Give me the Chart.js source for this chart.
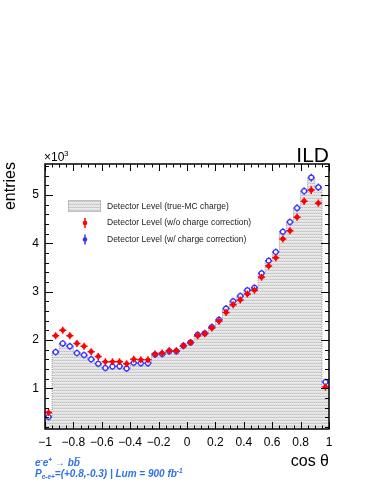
<!DOCTYPE html>
<html>
<head>
<meta charset="utf-8">
<script src="https://cdn.jsdelivr.net/npm/chart.js@4.4.1/dist/chart.umd.min.js"></script>
<style>
  html, body { margin: 0; padding: 0; background: #fff; }
  #wrap { width: 374px; height: 484px; }
</style>
</head>
<body>
<div id="wrap"><canvas id="costheta" width="374" height="484"></canvas></div>
<script>
// binning of cos theta
const nBins = 40;
const xLow = -1;
const xHigh = 1;

// entries per bin
const trueMC = [410, 1750, 1930, 1870, 1730, 1690, 1600, 1510, 1420, 1450,
  1460, 1410, 1530, 1520, 1520, 1700, 1710, 1770, 1770, 1880,
  1950, 2110, 2140, 2270, 2420, 2650, 2800, 2910, 3030, 3080,
  3380, 3640, 3820, 4240, 4440, 4730, 5080, 5360, 5160, 1000];
const withoutCorr = [500, 2090, 2200, 2090, 1930, 1870, 1760, 1660, 1550, 1550,
  1550, 1510, 1600, 1590, 1590, 1710, 1730, 1780, 1780, 1880,
  1950, 2090, 2130, 2250, 2390, 2570, 2730, 2830, 2950, 3030,
  3300, 3530, 3700, 4090, 4260, 4540, 4870, 5100, 4830, 1030];
const withCorr = [410, 1750, 1930, 1870, 1730, 1690, 1600, 1510, 1420, 1450,
  1460, 1410, 1530, 1520, 1520, 1700, 1710, 1770, 1770, 1880,
  1950, 2110, 2140, 2270, 2420, 2650, 2800, 2910, 3030, 3080,
  3380, 3640, 3820, 4240, 4440, 4730, 5080, 5360, 5160, 1130];

const xTickValues = [-1, -0.8, -0.6, -0.4, -0.2, 0, 0.2, 0.4, 0.6, 0.8, 1];
const yTickValues = [1000, 2000, 3000, 4000, 5000];
const yMin = 160;
const yMax = 5640;

const binWidth = (xHigh - xLow) / nBins;
const RED = '#ff0000';
const BLUE = '#3434ff';
const TEXT_BLUE = '#2f72e8';

// light grey dotted fill like the ROOT pattern
function makePattern() {
  const c = document.createElement('canvas');
  c.width = 4;
  c.height = 3;
  const p = c.getContext('2d');
  p.fillStyle = '#e9e9e9';
  p.fillRect(0, 0, 4, 3);
  p.fillStyle = '#c2c2c2';
  p.fillRect(0, 0, 1, 1);
  p.fillRect(2, 0, 1, 1);
  p.fillStyle = '#d4d4d4';
  p.fillRect(1, 0, 1, 1);
  p.fillRect(3, 0, 1, 1);
  p.fillStyle = '#dddddd';
  p.fillRect(1, 2, 1, 1);
  p.fillRect(3, 2, 1, 1);
  return p.createPattern(c, 'repeat');
}
const histFill = makePattern();

function points(values) {
  return values.map((v, i) => ({ x: xLow + (i + 0.5) * binWidth, y: v }));
}

function stepPoints(values) {
  const pts = values.map((v, i) => ({ x: xLow + i * binWidth, y: v }));
  pts.push({ x: xHigh, y: values[values.length - 1] });
  return pts;
}

function minusSign(s) {
  return String(s).replace('-', '\u2212');
}

// error crosses: full bin width horizontally, sqrt(N) vertically
const errorBars = {
  id: 'errorBars',
  beforeDatasetDraw(chart, args) {
    const ds = chart.data.datasets[args.index];
    if (!ds.errorColor) return;
    const ctx = chart.ctx;
    const xs = chart.scales.x;
    const ys = chart.scales.y;
    ctx.save();
    ctx.strokeStyle = ds.errorColor;
    ctx.lineWidth = 1.5;
    ds.data.forEach(p => {
      const err = Math.sqrt(p.y) * 1.1;
      const x0 = xs.getPixelForValue(p.x - binWidth / 2);
      const x1 = xs.getPixelForValue(p.x + binWidth / 2);
      const xc = xs.getPixelForValue(p.x);
      const yc = ys.getPixelForValue(p.y);
      const ya = Math.min(ys.getPixelForValue(p.y + err), yc - 3.5);
      const yb = Math.max(ys.getPixelForValue(p.y - err), yc + 3.5);
      ctx.beginPath();
      ctx.moveTo(x0, yc);
      ctx.lineTo(x1, yc);
      ctx.moveTo(xc, ya);
      ctx.lineTo(xc, yb);
      ctx.stroke();
    });
    ctx.restore();
  }
};

// frame, inward ticks, legend and labels
const rootStyle = {
  id: 'rootStyle',
  afterDraw(chart) {
    const ctx = chart.ctx;
    const a = chart.chartArea;
    const xs = chart.scales.x;
    const ys = chart.scales.y;
    ctx.save();
    ctx.strokeStyle = '#000';
    ctx.lineWidth = 1.5;
    ctx.strokeRect(a.left, a.top, a.right - a.left, a.bottom - a.top);

    ctx.lineWidth = 1;
    ctx.beginPath();
    for (let i = 0; i <= nBins; i++) {
      const v = xLow + i * binWidth;
      const px = Math.round(xs.getPixelForValue(v)) + 0.5;
      const len = (i % 4 === 0) ? 7 : 3.5;
      ctx.moveTo(px, a.bottom);
      ctx.lineTo(px, a.bottom - len);
      ctx.moveTo(px, a.top);
      ctx.lineTo(px, a.top + len);
    }
    for (let v = 200; v < yMax; v += 200) {
      if (v < yMin) continue;
      const py = Math.round(ys.getPixelForValue(v)) + 0.5;
      const len = (v % 1000 === 0) ? 8 : 4;
      ctx.moveTo(a.left, py);
      ctx.lineTo(a.left + len, py);
      ctx.moveTo(a.right, py);
      ctx.lineTo(a.right - len, py);
    }
    ctx.stroke();

    // legend
    ctx.fillStyle = histFill;
    ctx.fillRect(68, 200, 33, 12);
    ctx.setLineDash([1, 1]);
    ctx.strokeStyle = '#999';
    ctx.strokeRect(68.5, 200.5, 32, 11);
    ctx.setLineDash([]);
    const legendMarks = [[RED, 223], [BLUE, 239.5]];
    legendMarks.forEach(([col, y]) => {
      ctx.strokeStyle = col;
      ctx.lineWidth = 1.5;
      ctx.beginPath();
      ctx.moveTo(85, y - 5);
      ctx.lineTo(85, y + 5);
      ctx.stroke();
      ctx.fillStyle = col;
      ctx.beginPath();
      ctx.arc(85, y, 2.3, 0, Math.PI * 2);
      ctx.fill();
    });
    ctx.fillStyle = '#222';
    ctx.font = '8.5px "Liberation Sans", Arial, sans-serif';
    ctx.textBaseline = 'middle';
    ctx.textAlign = 'left';
    ctx.fillText('Detector Level (true-MC charge)', 107, 206.5);
    ctx.fillText('Detector Level (w/o charge correction)', 107, 223);
    ctx.fillText('Detector Level (w/ charge correction)', 107, 239.5);

    // axis titles and labels
    ctx.fillStyle = '#000';
    ctx.textBaseline = 'alphabetic';
    ctx.font = '12px "Liberation Sans", Arial, sans-serif';
    ctx.fillText('\u00d710', a.left - 1, 161);
    ctx.font = '8px "Liberation Sans", Arial, sans-serif';
    ctx.fillText('3', a.left + 19, 156);

    ctx.font = '21px "Liberation Sans", Arial, sans-serif';
    ctx.textAlign = 'right';
    ctx.fillText('ILD', a.right, 162);

    ctx.font = '16px "Liberation Sans", Arial, sans-serif';
    ctx.fillText('cos \u03b8', a.right, 466);

    ctx.save();
    ctx.translate(11, a.top - 2);
    ctx.rotate(-Math.PI / 2);
    ctx.textAlign = 'right';
    ctx.textBaseline = 'middle';
    ctx.fillText('entries', 0, 0);
    ctx.restore();

    // process / beam label
    ctx.fillStyle = TEXT_BLUE;
    ctx.textAlign = 'left';
    const big = 'italic bold 10px "Liberation Sans", Arial, sans-serif';
    const small = 'italic bold 6.5px "Liberation Sans", Arial, sans-serif';
    let x = 35;
    const run = (txt, font, dy, y) => {
      ctx.font = font;
      ctx.fillText(txt, x, y + dy);
      x += ctx.measureText(txt).width;
    };
    run('e', big, 0, 466);
    run('-', small, -4, 466);
    run('e', big, 0, 466);
    run('+', small, -4, 466);
    run(' \u2192 b', big, 0, 466);
    ctx.font = big;
    const bw = ctx.measureText('b').width;
    const bx = x;
    run('b', big, 0, 466);
    ctx.strokeStyle = TEXT_BLUE;
    ctx.lineWidth = 0.8;
    ctx.beginPath();
    ctx.moveTo(bx + 1, 457.5);
    ctx.lineTo(bx + bw + 0.5, 457.5);
    ctx.stroke();

    x = 35;
    run('P', big, 0, 477);
    run('e-e+', small, 2, 477);
    run('=(+0.8,-0.3) | Lum = 900 fb', big, 0, 477);
    run('-1', small, -4, 477);
    ctx.restore();
  }
};

new Chart(document.getElementById('costheta'), {
  data: {
    datasets: [
      {
        type: 'scatter',
        label: 'Detector Level (w/o charge correction)',
        data: points(withoutCorr),
        order: 1,
        errorColor: RED,
        pointStyle: 'circle',
        pointRadius: 2.4,
        backgroundColor: RED,
        borderColor: RED,
        borderWidth: 0
      },
      {
        type: 'scatter',
        label: 'Detector Level (w/ charge correction)',
        data: points(withCorr),
        order: 2,
        errorColor: BLUE,
        pointStyle: 'circle',
        pointRadius: 2.4,
        backgroundColor: '#ffffff',
        borderColor: BLUE,
        borderWidth: 1.2
      },
      {
        type: 'line',
        label: 'Detector Level (true-MC charge)',
        data: stepPoints(trueMC),
        order: 3,
        stepped: 'before',
        fill: 'start',
        backgroundColor: histFill,
        borderColor: '#9a9a9a',
        borderWidth: 1,
        borderDash: [1, 1],
        pointRadius: 0
      }
    ]
  },
  options: {
    responsive: false,
    animation: false,
    devicePixelRatio: 1,
    layout: { padding: { left: 0, right: 45, top: 164, bottom: 25 } },
    plugins: { legend: { display: false }, tooltip: { enabled: false } },
    scales: {
      x: {
        type: 'linear',
        min: xLow,
        max: xHigh,
        afterBuildTicks: s => { s.ticks = xTickValues.map(v => ({ value: v })); },
        afterFit: s => { s.height = 30; },
        grid: { display: false, drawTicks: false },
        border: { display: false },
        ticks: {
          autoSkip: false,
          maxRotation: 0,
          padding: 6,
          color: '#000',
          font: { family: '"Liberation Sans", Arial, sans-serif', size: 12 },
          callback: v => {
            const r = Math.round(v * 10) / 10;
            return r === 0 ? '0' : minusSign(r);
          }
        }
      },
      y: {
        type: 'linear',
        min: yMin,
        max: yMax,
        afterBuildTicks: s => { s.ticks = yTickValues.map(v => ({ value: v })); },
        afterFit: s => { s.width = 45; },
        grid: { display: false, drawTicks: false },
        border: { display: false },
        ticks: {
          padding: 6,
          color: '#000',
          font: { family: '"Liberation Sans", Arial, sans-serif', size: 12 },
          callback: v => String(v / 1000)
        }
      }
    }
  },
  plugins: [errorBars, rootStyle]
});
</script>
</body>
</html>
